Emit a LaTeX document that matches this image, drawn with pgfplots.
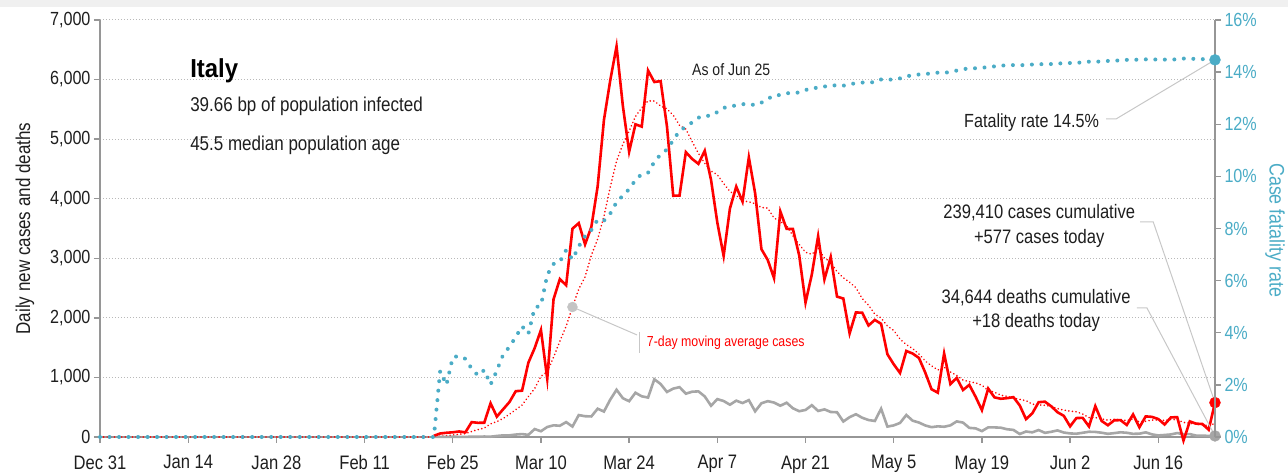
\documentclass[border=0pt]{standalone}
\usepackage{fontspec}
\setmainfont{Liberation Sans}[FakeStretch=0.85]
\newfontfamily\titlefont{Liberation Sans}[FakeStretch=0.92]
\usepackage{pgfplots}
\usepackage{pgfplotstable}
\pgfplotsset{compat=1.18}
\definecolor{casered}{RGB}{255,0,0}
\definecolor{deathgray}{RGB}{166,166,166}
\definecolor{cfrblue}{RGB}{75,172,198}
\definecolor{axisgray}{RGB}{150,150,150}
\definecolor{gridgray}{RGB}{185,185,185}
\definecolor{markgray}{RGB}{196,196,196}
\definecolor{txt}{RGB}{30,30,30}
\newcommand\fs[1]{\fontsize{#1bp}{#1bp}\selectfont}

% day 0 = Dec 31; cases, deaths, 7-day avg cases, fatality rate (%)
\pgfplotstableread{
d cases deaths ma cfr
0 0 0 0 0
52 0 0 0 0
53 20 1 2.9 0
54 59 1 11.3 2.53
55 71 1 21.4 2.00
56 79 4 32.7 3.06
57 93 3 46.0 3.11
58 78 2 57.1 3.00
59 250 5 92.9 2.62
60 238 4 124.0 2.36
61 240 8 149.9 2.57
62 566 5 220.6 2.01
63 342 18 258.1 2.55
64 466 27 311.4 3.16
65 587 28 384.1 3.46
66 769 41 458.3 3.84
67 778 49 535.4 4.25
68 1247 36 679.3 3.96
69 1492 133 811.6 4.96
70 1797 97 1019.4 5.05
71 977 168 1092.4 6.22
72 2313 196 1339.0 6.64
73 2651 189 1607.9 6.72
74 2547 250 1860.6 7.17
75 3497 175 2182.0 6.81
76 3590 368 2481.7 7.31
77 3233 349 2686.9 7.71
78 3526 345 3051.0 7.94
79 4207 475 3321.6 8.34
80 5322 427 3703.1 8.30
81 5986 627 4194.4 8.57
82 6557 793 4631.6 9.01
83 5560 651 4913.0 9.26
84 4789 601 5135.3 9.51
85 5249 743 5381.4 9.86
86 5210 683 5524.7 10.09
87 6153 662 5643.4 10.14
88 5959 969 5639.6 10.56
89 5974 889 5556.3 10.84
90 5217 756 5507.3 11.03
91 4050 812 5401.7 11.39
92 4053 837 5230.9 11.75
93 4782 727 5169.7 11.90
94 4668 760 4957.6 12.07
95 4585 766 4761.3 12.25
96 4805 681 4594.3 12.33
97 4316 525 4465.6 12.32
98 3599 636 4401.1 12.47
99 3039 604 4256.3 12.63
100 3836 542 4121.1 12.67
101 4204 610 4054.9 12.73
102 3951 570 3964.3 12.77
103 4694 619 3948.4 12.78
104 4092 431 3916.4 12.73
105 3153 566 3852.7 12.83
106 2972 602 3843.1 12.97
107 2667 578 3676.1 13.11
108 3786 525 3616.4 13.12
109 3493 575 3551.0 13.19
110 3491 482 3379.1 13.20
111 3047 433 3229.9 13.22
112 2256 454 3101.7 13.31
113 2729 534 3067.0 13.40
114 3370 437 3167.4 13.39
115 2646 464 3004.6 13.45
116 3021 420 2937.1 13.46
117 2357 415 2775.1 13.51
118 2324 260 2671.9 13.48
119 1739 333 2598.0 13.53
120 2091 382 2506.9 13.58
121 2086 323 2323.4 13.60
122 1872 285 2212.9 13.61
123 1965 269 2062.0 13.61
124 1900 474 1996.7 13.72
125 1389 174 1863.1 13.71
126 1221 195 1789.1 13.72
127 1075 236 1644.0 13.76
128 1444 369 1552.3 13.84
129 1401 274 1485.0 13.88
130 1327 243 1393.9 13.91
131 1083 194 1277.1 13.93
132 802 165 1193.3 13.95
133 744 179 1125.1 13.98
134 1402 172 1171.9 13.97
135 888 195 1092.4 14.01
136 992 262 1034.0 14.06
137 789 242 957.1 14.12
138 875 153 927.4 14.13
139 675 145 909.3 14.15
140 451 99 867.4 14.17
141 813 162 783.3 14.19
142 665 161 751.4 14.22
143 642 156 701.4 14.25
144 652 130 681.9 14.26
145 669 119 652.4 14.27
146 531 50 631.9 14.26
147 300 92 610.3 14.28
148 397 78 550.9 14.29
149 584 117 539.3 14.31
150 593 70 532.3 14.30
151 516 87 512.9 14.31
152 416 111 476.7 14.33
153 355 75 451.6 14.34
154 178 60 434.1 14.35
155 318 55 422.9 14.36
156 321 71 385.3 14.37
157 177 88 325.9 14.40
158 518 85 326.1 14.40
159 270 72 305.3 14.41
160 197 53 282.7 14.43
161 280 65 297.3 14.44
162 283 79 292.3 14.45
163 202 71 275.3 14.47
164 379 53 304.1 14.47
165 163 56 253.4 14.48
166 346 78 264.3 14.49
167 338 44 284.4 14.49
168 301 26 287.4 14.48
169 210 34 277.0 14.48
170 329 43 295.1 14.48
171 333 66 288.6 14.49
172 -60 47 244.1 14.52
173 262 49 232.1 14.51
174 224 24 215.9 14.51
175 218 23 204.0 14.50
176 122 18 191.4 14.49
177 577 18 226.9 14.47
}\italy

\begin{document}
\begin{tikzpicture}
\path[use as bounding box] (-100bp,-37bp) rectangle (1188bp,437bp);
\fill[black!6] (-100bp,430bp) rectangle (1188bp,437bp);

\begin{axis}[
  at={(0,0)}, scale only axis, width=1115bp, height=417bp,
  xmin=0, xmax=177, ymin=0, ymax=7000,
  axis x line*=bottom, axis y line*=left,
  axis line style={axisgray, line width=1.3bp},
  xtick={0,14,...,168},
  xticklabels={Dec 31,Jan 14,Jan 28,Feb 11,Feb 25,Mar 10,Mar 24,Apr 7,Apr 21,May 5,May 19,Jun 2,Jun 16},
  ytick={0,1000,...,7000},
  tick align=outside, major tick length=6bp,
  tick style={axisgray, line width=1.3bp},
  ymajorgrids,
  grid style={gridgray, line width=1bp, dash pattern=on 1bp off 2bp},
  scaled y ticks=false,
  /pgf/number format/1000 sep={,},
  /pgf/number format/assume math mode=true,
  xticklabel style={font=\fs{19.5}, text=txt, yshift=-9bp},
  yticklabel style={font=\fs{19}, text=txt},
  clip=false,
]
  \addplot[casered, dash pattern=on 0.01bp off 3.6bp, line cap=round, line width=1.8bp]
    table[x=d, y=ma] {\italy};
  \addplot[deathgray, line width=2.6bp, restrict x to domain=53:200]
    table[x=d, y=deaths] {\italy};
  \addplot[casered, line width=2.6bp, restrict x to domain=53:200]
    table[x=d, y=cases] {\italy};

  % leader lines
  \draw[black!22, line width=1bp] (axis cs:75,2182) -- (axis cs:85.25,1713);
  \draw[black!22, line width=1bp] (axis cs:85.57,1763) -- (axis cs:85.57,1410);
  \draw[black!22, line width=1bp] (axis cs:159.7,5339) -- (axis cs:161.3,5339) -- (axis cs:177,6331);
  \draw[black!22, line width=1bp] (axis cs:165.1,3610) -- (axis cs:167.2,3610) -- (axis cs:177,577);
  \draw[black!22, line width=1bp] (axis cs:164.6,2166) -- (axis cs:166.2,2166) -- (axis cs:177,18);

  \addplot[only marks, mark=*, mark size=5bp, markgray, mark options={draw=markgray, fill=markgray}] coordinates {(75,2182)};
  \addplot[only marks, mark=*, mark size=5.5bp, casered, mark options={draw=casered, fill=casered}] coordinates {(177,577)};
  \addplot[only marks, mark=*, mark size=5.5bp, deathgray, mark options={draw=deathgray, fill=deathgray}] coordinates {(177,18)};

  \node[anchor=base west, font=\titlefont\bfseries\fs{26}, text=black, inner sep=0] at (axis cs:14.3,6028) {Italy};
  \node[anchor=base west, font=\fs{20}, text=txt, inner sep=0] at (axis cs:14.3,5462) {39.66 bp of population infected};
  \node[anchor=base west, font=\fs{20}, text=txt, inner sep=0] at (axis cs:14.3,4807) {45.5 median population age};
  \node[anchor=base, font=\fs{16.5}, text=txt, inner sep=0] at (axis cs:100.2,6066) {As of Jun 25};
  \node[anchor=base east, font=\fs{19}, text=txt, inner sep=0] at (axis cs:158.6,5200) {Fatality rate 14.5\%};
  \node[anchor=base, font=\fs{19.5}, text=txt, inner sep=0] at (axis cs:149.1,3672) {239,410 cases cumulative};
  \node[anchor=base, font=\fs{19.5}, text=txt, inner sep=0] at (axis cs:149.1,3252) {+577 cases today};
  \node[anchor=base, font=\fs{19.5}, text=txt, inner sep=0] at (axis cs:148.6,2245) {34,644 deaths cumulative};
  \node[anchor=base, font=\fs{19.5}, text=txt, inner sep=0] at (axis cs:148.6,1835) {+18 deaths today};
  \node[anchor=base west, font=\fs{14.5}, text=casered, inner sep=0] at (axis cs:86.8,1516) {7-day moving average cases};

  \node[rotate=90, font=\fs{20}, text=txt] at (rel axis cs:-0.0673,0.5) {Daily new cases and deaths};
  \node[rotate=-90, font=\fs{21}, text=cfrblue] at (rel axis cs:1.0538,0.496) {Case fatality rate};
\end{axis}

\begin{axis}[
  at={(0,0)}, scale only axis, width=1115bp, height=417bp,
  xmin=0, xmax=177, ymin=0, ymax=16,
  axis x line=none, axis y line*=right,
  axis line style={axisgray, line width=1.3bp},
  ytick={0,2,...,16},
  yticklabel={\pgfmathprintnumber{\tick}\%},
  tick align=outside, major tick length=6bp,
  tick style={axisgray, line width=1.3bp},
  /pgf/number format/assume math mode=true,
  yticklabel style={font=\fs{19}, text=cfrblue},
  clip=false,
]
  \addplot[cfrblue, line width=4bp, line cap=round, dash pattern=on 0.01bp off 9.5bp]
    table[x=d, y=cfr] {\italy};
  \addplot[only marks, mark=*, mark size=5.5bp, cfrblue, mark options={draw=cfrblue, fill=cfrblue}] coordinates {(177,14.47)};
\end{axis}
\end{tikzpicture}
\end{document}
